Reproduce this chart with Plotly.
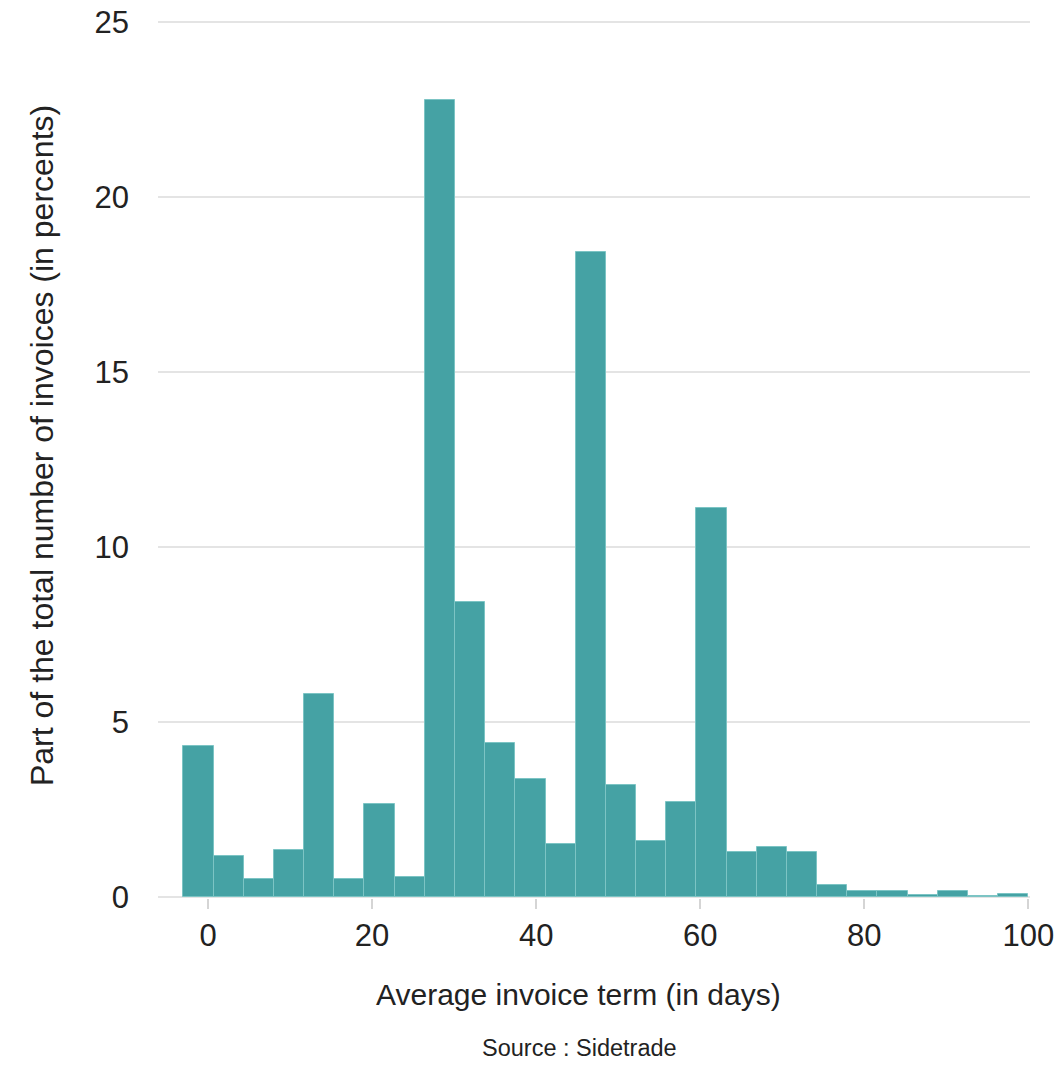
import plotly.graph_objects as go

# Histogram data: share of invoices (%) per bin of average invoice term (days)
bin_start = -3.0
bin_end = 100.0
share_pct = [4.31, 1.17, 0.51, 1.35, 5.81, 0.51, 2.66, 0.56, 22.76, 8.43,
             4.41, 3.37, 1.50, 18.43, 3.21, 1.61, 2.71, 11.10, 1.28, 1.43,
             1.29, 0.33, 0.16, 0.16, 0.07, 0.17, 0.02, 0.09]
x_ticks = [0, 20, 40, 60, 80, 100]
y_ticks = [0, 5, 10, 15, 20, 25]

n_bins = len(share_pct)
bin_w = (bin_end - bin_start) / n_bins
centers = [bin_start + bin_w * (i + 0.5) for i in range(n_bins)]

FONT = "Liberation Sans"
TXT = "#222222"

fig = go.Figure()
fig.add_trace(go.Bar(
    x=centers, y=share_pct, width=[bin_w] * n_bins,
    marker=dict(color="#45a2a4", line=dict(color="#7cc4c4", width=1)),
    hoverinfo="x+y", showlegend=False,
))

fig.update_layout(
    width=1062, height=1070,
    margin=dict(l=158, r=32, t=21, b=172, autoexpand=False),
    paper_bgcolor="white", plot_bgcolor="white",
    font=dict(family=FONT, color=TXT, size=28),
    bargap=0,
    xaxis=dict(range=[-6.1, 100.2], tickvals=x_ticks, showgrid=False,
               zeroline=False, showline=False, ticks="outside", ticklen=10,
               tickwidth=2, tickcolor="#d5d5d5", ticklabeloverflow="allow",
               automargin=False,
               tickfont=dict(size=31, color=TXT), ticklabelstandoff=0),
    yaxis=dict(range=[-0.03, 25.03], tickvals=y_ticks, showgrid=True,
               gridcolor="#e4e4e4", gridwidth=2, zeroline=False,
               showline=False, ticks="", tickfont=dict(size=31, color=TXT),
               automargin=False,
               ticklabeloverflow="allow", ticklabelstandoff=28),
    annotations=[
        dict(text="Part of the total number of invoices (in percents)",
             xref="paper", yref="paper", x=-0.133, y=0.5154, textangle=-90,
             showarrow=False, font=dict(size=32, color=TXT),
             xanchor="center", yanchor="middle"),
        dict(text="Average invoice term (in days)", xref="paper", yref="paper",
             x=0.4817, y=-0.1106, showarrow=False, font=dict(size=30, color=TXT),
             xanchor="center", yanchor="middle"),
        dict(text="Source : Sidetrade", xref="paper", yref="paper",
             x=0.483, y=-0.171, showarrow=False, font=dict(size=23.5, color=TXT),
             xanchor="center", yanchor="middle"),
    ],
)

fig.write_html(
    "out.html",
    config={"displayModeBar": False},
    post_script="document.body.style.margin='0';document.body.style.overflow='hidden';",
)
